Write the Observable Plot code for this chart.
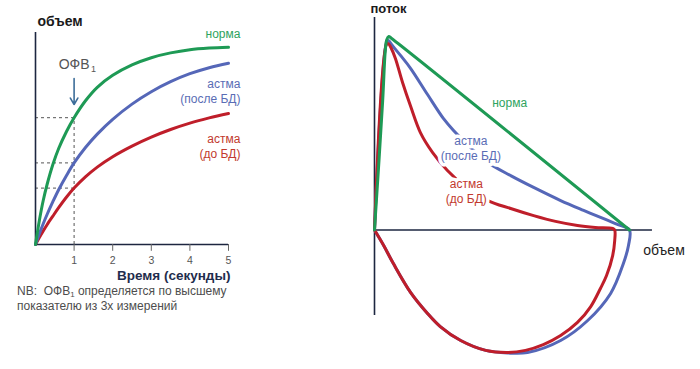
<!DOCTYPE html>
<html>
<head>
<meta charset="utf-8">
<script src="https://cdn.jsdelivr.net/npm/d3@7"></script>
<script src="https://cdn.jsdelivr.net/npm/@observablehq/plot@0.6"></script>
<style>
  body { margin: 0; background: #fff; }
  #wrap { position: relative; width: 700px; height: 369px; overflow: hidden; font-family: "Liberation Sans", Arial, sans-serif; }
  #wrap svg { position: absolute; left: 0; top: 0; }
  #nb { position: absolute; left: 17px; top: 284px; font-size: 12px; line-height: 15px; color: #4d4d4d; white-space: nowrap; }
  #nb sub { font-size: 8px; vertical-align: -2px; line-height: 0; }
</style>
</head>
<body>
<div id="wrap"><div id="nb">NB:&nbsp; ОФВ<sub>1</sub> определяется по высшему<br>показателю из 3х измерений</div></div>
<script>
// ---- Left panel: volume vs time ----
const timeSec   = [0, 0.1, 0.2, 0.3, 0.45, 0.6, 0.8, 1.0, 1.3, 1.6, 2.0, 2.5, 3.0, 3.5, 4.0, 4.5, 5.0];
const volNorma  = [0, 0.6, 1.1, 1.5, 2.0, 2.4, 2.82, 3.17, 3.6, 3.93, 4.23, 4.49, 4.67, 4.79, 4.87, 4.91, 4.93];
const volPosle  = [0, 0.27, 0.52, 0.75, 1.07, 1.37, 1.72, 2.04, 2.43, 2.76, 3.13, 3.51, 3.82, 4.07, 4.27, 4.42, 4.53];
const volDo     = [0, 0.175, 0.34, 0.495, 0.71, 0.92, 1.18, 1.41, 1.695, 1.935, 2.195, 2.46, 2.685, 2.875, 3.035, 3.165, 3.275];
const timeTicks = [1, 2, 3, 4, 5];

// ---- Right panel: flow vs volume ----
const fvNormaV = [0, 0.16, 0.21, 0.24, 0.28, 0.33, 5.0];
const fvNormaF = [0, 6.0, 8.3, 8.85, 9.0, 8.92, 0];
const fvPosleV = [0, 0.235, 0.27, 0.35, 0.51, 0.71, 1.04, 1.35, 1.55, 1.88, 2.22, 2.67, 3.12, 3.65, 4.10, 4.53, 4.82, 5.0, 4.98, 4.88, 4.63, 4.18, 3.65, 3.0, 2.61, 2.18, 1.69, 1.29, 1.04, 0.71, 0.37, 0.18, 0];
const fvPosleF = [0, 8.72, 8.81, 8.58, 8.12, 7.51, 6.30, 5.19, 4.63, 3.84, 3.14, 2.53, 1.98, 1.37, 0.91, 0.49, 0.21, 0, -0.72, -1.56, -2.95, -4.21, -5.14, -5.70, -5.72, -5.6, -5.14, -4.49, -3.88, -2.91, -1.56, -0.72, 0];
const fvDoV = [0, 0.235, 0.27, 0.33, 0.41, 0.55, 0.71, 0.90, 1.14, 1.43, 1.78, 2.22, 2.67, 3.12, 3.55, 3.98, 4.33, 4.67, 4.71, 4.71, 4.67, 4.55, 4.43, 4.24, 3.98, 3.65, 3.31, 2.96, 2.61, 2.18, 1.69, 1.29, 1.04, 0.71, 0.37, 0.18, 0];
const fvDoF = [0, 8.63, 8.67, 8.44, 7.98, 6.86, 5.74, 4.53, 3.60, 2.77, 2.02, 1.37, 1.0, 0.67, 0.40, 0.21, 0.12, 0.07, 0, -0.49, -1.19, -2.12, -2.72, -3.56, -4.30, -4.91, -5.33, -5.60, -5.70, -5.6, -5.14, -4.49, -3.88, -2.91, -1.56, -0.72, 0];

const labels = {
  norma: "норма",
  posle: "астма\n(после БД)",
  doBD: "астма\n(до БД)",
  volume: "объем",
  flow: "поток",
  time: "Время (секунды)",
  fev: "ОФВ",
  fevSub: "1"
};

const GREEN = "#1e9a55", BLUE = "#5567b8", RED = "#bf1e2a";
const GREEN_T = "#2ea35e", BLUE_T = "#5a6db5", RED_T = "#c23a2e";
const AXIS = "#1d2640";
const FONT = "Liberation Sans, Arial, sans-serif";

const zip = (xs, ys) => xs.map((x, i) => ({x, y: ys[i]}));
const wrap = document.getElementById("wrap");

// value at t = 1 s for each curve (FEV1)
const i1 = timeSec.indexOf(1);
const fev1 = [volNorma[i1], volPosle[i1], volDo[i1]];

const left = Plot.plot({
  width: 700, height: 369, margin: 0,
  x: {domain: [0, 5], range: [35, 228], axis: null},
  y: {domain: [0, 5], range: [244, 44], axis: null},
  style: {background: "transparent", overflow: "visible", fontFamily: FONT},
  marks: [
    // dashed FEV1 guides
    Plot.ruleX([{t: 1, v: fev1[0]}], {x: "t", y1: 0, y2: "v", stroke: "#555", strokeWidth: 1, strokeDasharray: "3,3"}),
    Plot.ruleY(fev1, {y: d => d, x1: 0, x2: 1, stroke: "#555", strokeWidth: 1, strokeDasharray: "3,3"}),
    // axes
    Plot.ruleX([0], {y1: 0, y2: 5.3, stroke: AXIS, strokeWidth: 1.6}),
    Plot.ruleY([0], {x1: 0, x2: 5, stroke: AXIS, strokeWidth: 1.6}),
    Plot.ruleX(timeTicks, {y1: 0, y2: -0.17, stroke: "#666", strokeWidth: 1}),
    Plot.text(timeTicks, {x: d => d, y: -0.4, text: d => String(d), fill: "#555", fontSize: 10.5, fontFamily: FONT}),
    // curves
    Plot.line(zip(timeSec, volDo), {x: "x", y: "y", stroke: RED, strokeWidth: 3, curve: "catmull-rom"}),
    Plot.line(zip(timeSec, volPosle), {x: "x", y: "y", stroke: BLUE, strokeWidth: 3, curve: "catmull-rom"}),
    Plot.line(zip(timeSec, volNorma), {x: "x", y: "y", stroke: GREEN, strokeWidth: 3, curve: "catmull-rom"}),
    // arrow + FEV1 label
    Plot.arrow([{t: 1}], {x1: "t", x2: "t", y1: 4.15, y2: 3.5, stroke: "#3d6e9a", strokeWidth: 1.6, headLength: 7}),
    Plot.text([labels.fev], {x: 1, y: 4.5, text: d => d, fill: "#555", fontSize: 14, fontFamily: FONT}),
    Plot.text([labels.fevSub], {x: 1.5, y: 4.38, text: d => d, fill: "#555", fontSize: 9, fontFamily: FONT}),
    // series labels
    Plot.text([labels.norma], {x: 5.31, y: 5.27, text: d => d, textAnchor: "end", fill: GREEN_T, fontSize: 12, fontFamily: FONT}),
    Plot.text([labels.posle], {x: 5.31, y: 3.84, text: d => d, textAnchor: "end", lineHeight: 1.25, fill: BLUE_T, fontSize: 12, fontFamily: FONT}),
    Plot.text([labels.doBD], {x: 5.31, y: 2.46, text: d => d, textAnchor: "end", lineHeight: 1.25, fill: RED_T, fontSize: 12, fontFamily: FONT}),
    // axis titles
    Plot.text([labels.volume], {x: 0.05, y: 5.58, text: d => d, textAnchor: "start", fill: "#1a1a1a", fontSize: 14, fontWeight: "bold", fontFamily: FONT}),
    Plot.text([labels.time], {x: 5.05, y: -0.78, text: d => d, textAnchor: "end", fill: "#1f2d4d", fontSize: 13.5, fontWeight: "bold", fontFamily: FONT})
  ]
});

const right = Plot.plot({
  width: 700, height: 369, margin: 0,
  x: {domain: [0, 5], range: [374, 629], axis: null},
  y: {domain: [0, 9], range: [229.5, 36], axis: null},
  style: {background: "transparent", overflow: "visible", fontFamily: FONT},
  marks: [
    Plot.ruleX([0], {y1: -3.98, y2: 9.88, stroke: AXIS, strokeWidth: 1.6}),
    Plot.ruleY([0], {x1: 0, x2: 5.45, stroke: AXIS, strokeWidth: 1.6}),
    Plot.line(zip(fvPosleV, fvPosleF), {x: "x", y: "y", stroke: BLUE, strokeWidth: 3, curve: "catmull-rom"}),
    Plot.line(zip(fvDoV, fvDoF), {x: "x", y: "y", stroke: RED, strokeWidth: 3, curve: "catmull-rom"}),
    Plot.line(zip(fvNormaV, fvNormaF), {x: "x", y: "y", stroke: GREEN, strokeWidth: 3, curve: "catmull-rom"}),
    Plot.text([labels.norma], {x: 2.65, y: 5.88, text: d => d, fill: GREEN_T, fontSize: 12, fontFamily: FONT}),
    Plot.text([labels.posle], {x: 1.89, y: 3.81, text: d => d, lineHeight: 1.25, fill: BLUE_T, stroke: "white", strokeWidth: 7, fontSize: 12, fontFamily: FONT}),
    Plot.text([labels.doBD], {x: 1.80, y: 1.85, text: d => d, lineHeight: 1.25, fill: RED_T, stroke: "white", strokeWidth: 7, fontSize: 12, fontFamily: FONT}),
    Plot.text([labels.flow], {x: -0.08, y: 10.3, text: d => d, textAnchor: "start", fill: "#1a1a1a", fontSize: 13, fontWeight: "bold", fontFamily: FONT}),
    Plot.text([labels.volume], {x: 5.27, y: -0.95, text: d => d, textAnchor: "start", fill: "#222", fontSize: 14, fontFamily: FONT})
  ]
});

wrap.appendChild(left);
wrap.appendChild(right);
</script>
</body>
</html>
